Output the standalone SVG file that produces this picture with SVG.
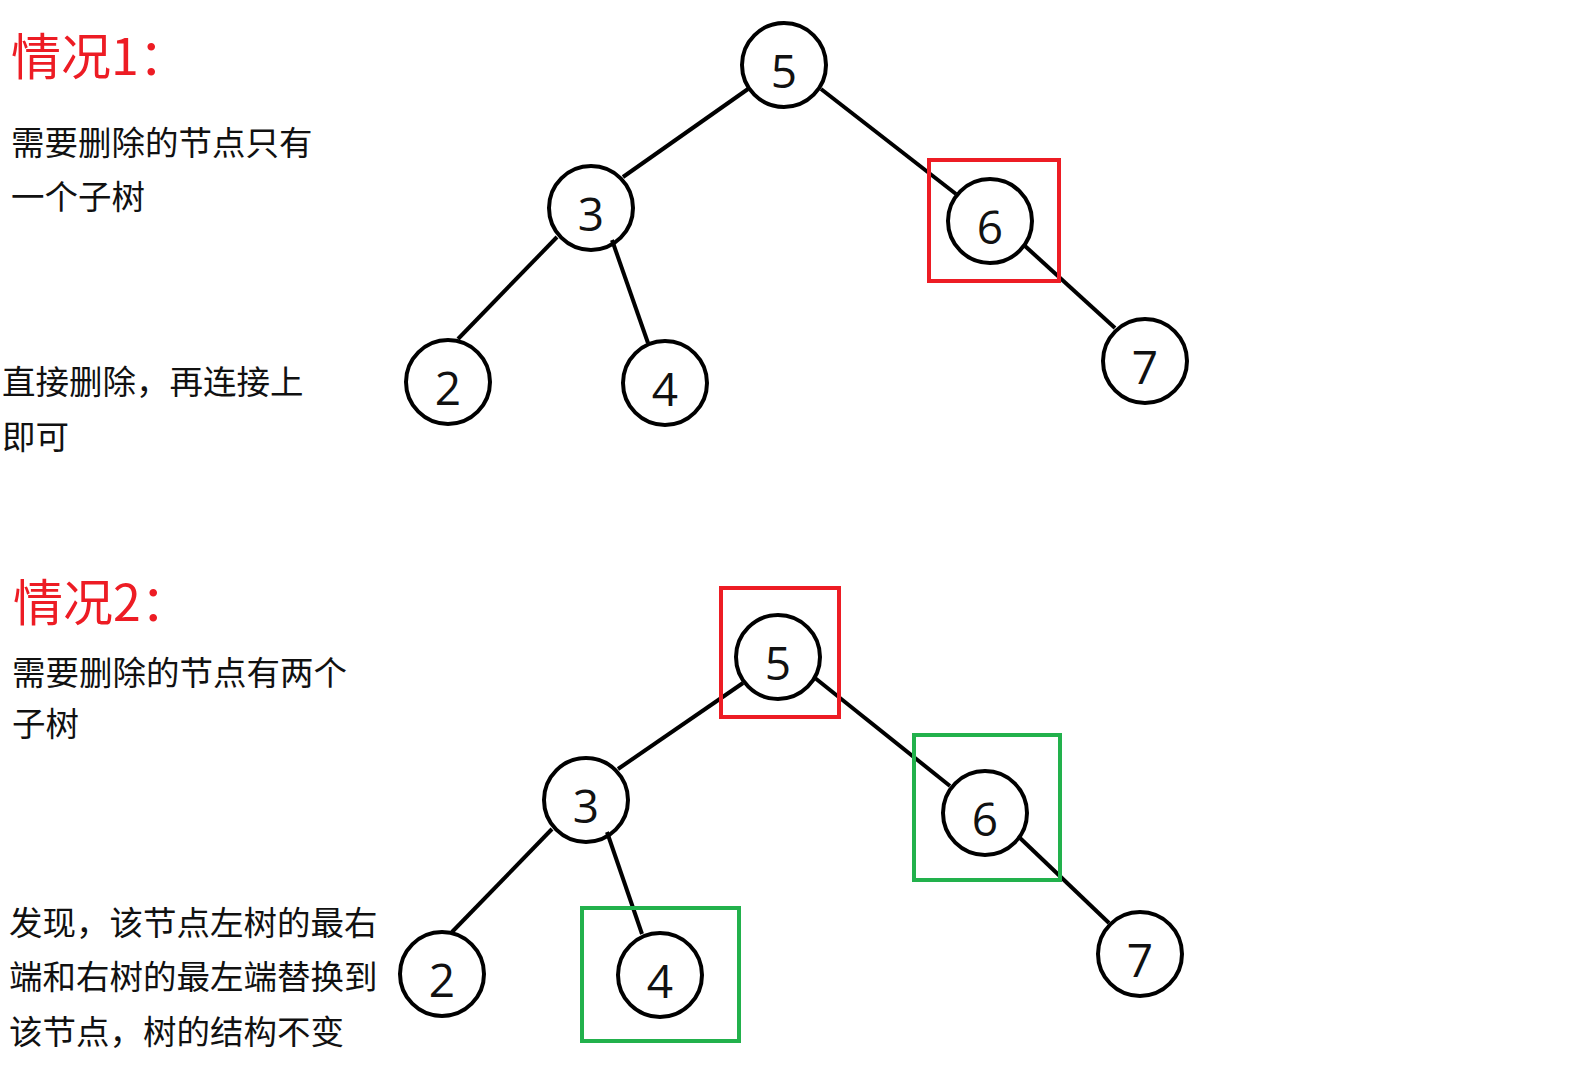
<svg xmlns="http://www.w3.org/2000/svg" width="1584" height="1074" viewBox="0 0 1584 1074">
<style>
.bg{fill:#fff}
.node circle{fill:none;stroke:#000;stroke-width:4}
.node text{font-family:"Open Sans","Noto Sans",sans-serif;font-size:46px;fill:#111;text-anchor:middle}
.edge{stroke:#000;stroke-width:4;stroke-linecap:butt}
.red{fill:none;stroke:#ED1C24;stroke-width:4}
.green{fill:none;stroke:#22B14C;stroke-width:4}
.title{font-family:"Noto Sans CJK SC","Noto Sans",sans-serif;font-size:50px;fill:#ED1C24}
.body{font-family:"Noto Sans CJK SC","Noto Sans",sans-serif;font-size:33.5px;fill:#111}
</style>
<rect class="bg" x="0" y="0" width="1584" height="1074"/>

<g id="texts">
<text class="title" x="11" y="75">情况1：</text>
<text class="body" x="11" y="155">需要删除的节点只有</text>
<text class="body" x="11" y="209">一个子树</text>
<text class="body" x="2" y="394">直接删除，再连接上</text>
<text class="body" x="2" y="449">即可</text>
<text class="title" x="13" y="621">情况2：</text>
<text class="body" x="12" y="685">需要删除的节点有两个</text>
<text class="body" x="12" y="736">子树</text>
<text class="body" x="9" y="935">发现，该节点左树的最右</text>
<text class="body" x="9" y="989">端和右树的最左端替换到</text>
<text class="body" x="9" y="1044">该节点，树的结构不变</text>
</g>

<g id="connectors">
<line class="edge" x1="748" y1="89" x2="623" y2="177"/>
<line class="edge" x1="821" y1="89" x2="956" y2="194"/>
<line class="edge" x1="557" y1="237" x2="458" y2="339"/>
<line class="edge" x1="612" y1="240" x2="648" y2="343"/>
<line class="edge" x1="1025" y1="246" x2="1115" y2="328"/>
<line class="edge" x1="743" y1="683" x2="618" y2="769"/>
<line class="edge" x1="815" y1="678" x2="950" y2="786"/>
<line class="edge" x1="552" y1="829" x2="452" y2="932"/>
<line class="edge" x1="607" y1="832" x2="642" y2="934"/>
<line class="edge" x1="1020" y1="838" x2="1109" y2="923"/>
</g>

<g id="t1-n5" class="node"><circle cx="784" cy="65" r="42"/><text x="784" y="88">5</text></g>
<g id="t1-n3" class="node"><circle cx="591" cy="208" r="42"/><text x="591" y="231">3</text></g>
<g id="t1-n6" class="node"><circle cx="990" cy="221" r="42"/><text x="990" y="244">6</text></g>
<g id="t1-n2" class="node"><circle cx="448" cy="382" r="42"/><text x="448" y="405">2</text></g>
<g id="t1-n4" class="node"><circle cx="665" cy="383" r="42"/><text x="665" y="406">4</text></g>
<g id="t1-n7" class="node"><circle cx="1145" cy="361" r="42"/><text x="1145" y="384">7</text></g>

<g id="t2-n5" class="node"><circle cx="778" cy="657" r="42"/><text x="778" y="680">5</text></g>
<g id="t2-n3" class="node"><circle cx="586" cy="800" r="42"/><text x="586" y="823">3</text></g>
<g id="t2-n6" class="node"><circle cx="985" cy="813" r="42"/><text x="985" y="836">6</text></g>
<g id="t2-n2" class="node"><circle cx="442" cy="974" r="42"/><text x="442" y="997">2</text></g>
<g id="t2-n4" class="node"><circle cx="660" cy="975" r="42"/><text x="660" y="998">4</text></g>
<g id="t2-n7" class="node"><circle cx="1140" cy="954" r="42"/><text x="1140" y="977">7</text></g>

<g id="highlights">
<rect class="red" x="929" y="160" width="130" height="121"/>
<rect class="red" x="721" y="588" width="118" height="129"/>
<rect class="green" x="582" y="908" width="157" height="133"/>
<rect class="green" x="914" y="735" width="146" height="145"/>
</g>
</svg>
